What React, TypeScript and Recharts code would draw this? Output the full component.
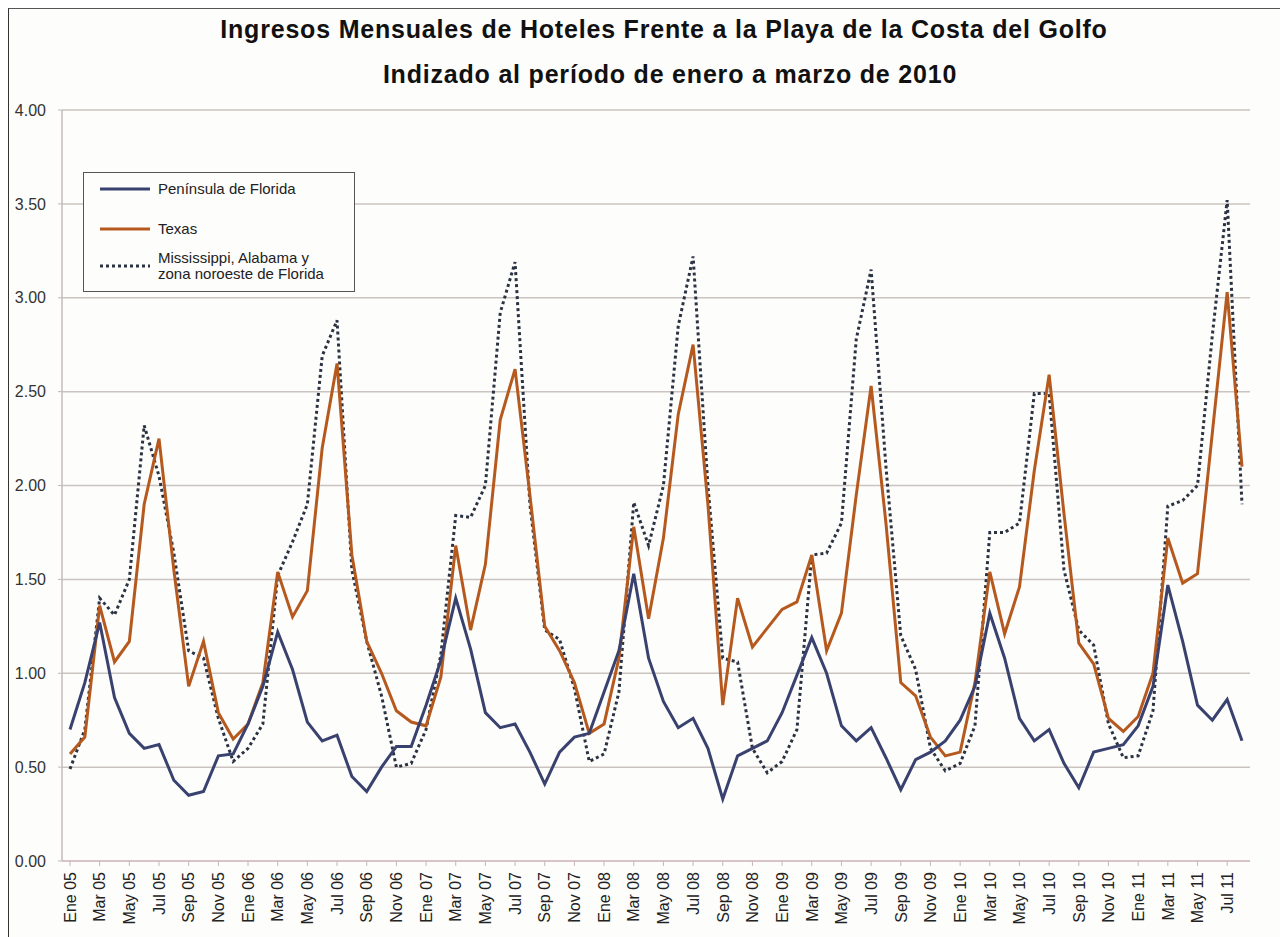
import React from 'react';
import { LineChart, Line, XAxis, YAxis, CartesianGrid } from 'recharts';

const months = [
  'Ene 05', 'Feb 05', 'Mar 05', 'Abr 05', 'May 05', 'Jun 05', 'Jul 05', 'Ago 05', 'Sep 05', 'Oct 05', 'Nov 05', 'Dic 05',
  'Ene 06', 'Feb 06', 'Mar 06', 'Abr 06', 'May 06', 'Jun 06', 'Jul 06', 'Ago 06', 'Sep 06', 'Oct 06', 'Nov 06', 'Dic 06',
  'Ene 07', 'Feb 07', 'Mar 07', 'Abr 07', 'May 07', 'Jun 07', 'Jul 07', 'Ago 07', 'Sep 07', 'Oct 07', 'Nov 07', 'Dic 07',
  'Ene 08', 'Feb 08', 'Mar 08', 'Abr 08', 'May 08', 'Jun 08', 'Jul 08', 'Ago 08', 'Sep 08', 'Oct 08', 'Nov 08', 'Dic 08',
  'Ene 09', 'Feb 09', 'Mar 09', 'Abr 09', 'May 09', 'Jun 09', 'Jul 09', 'Ago 09', 'Sep 09', 'Oct 09', 'Nov 09', 'Dic 09',
  'Ene 10', 'Feb 10', 'Mar 10', 'Abr 10', 'May 10', 'Jun 10', 'Jul 10', 'Ago 10', 'Sep 10', 'Oct 10', 'Nov 10', 'Dic 10',
  'Ene 11', 'Feb 11', 'Mar 11', 'Abr 11', 'May 11', 'Jun 11', 'Jul 11', 'Ago 11',
];

const florida = [
  0.70, 0.95, 1.27, 0.87, 0.68, 0.60, 0.62, 0.43, 0.35, 0.37, 0.56, 0.57,
  0.73, 0.93, 1.22, 1.02, 0.74, 0.64, 0.67, 0.45, 0.37, 0.50, 0.61, 0.61,
  0.83, 1.07, 1.40, 1.13, 0.79, 0.71, 0.73, 0.58, 0.41, 0.58, 0.66, 0.68,
  0.90, 1.12, 1.53, 1.08, 0.85, 0.71, 0.76, 0.60, 0.33, 0.56, 0.60, 0.64,
  0.79, 0.99, 1.19, 1.00, 0.72, 0.64, 0.71, 0.55, 0.38, 0.54, 0.58, 0.64,
  0.75, 0.93, 1.32, 1.08, 0.76, 0.64, 0.70, 0.52, 0.39, 0.58, 0.60, 0.62,
  0.72, 0.93, 1.47, 1.17, 0.83, 0.75, 0.86, 0.64,
];

const texas = [
  0.57, 0.66, 1.36, 1.06, 1.17, 1.90, 2.25, 1.55, 0.93, 1.17, 0.79, 0.65,
  0.73, 0.95, 1.54, 1.30, 1.44, 2.20, 2.65, 1.63, 1.17, 1.00, 0.80, 0.74,
  0.72, 0.98, 1.68, 1.23, 1.58, 2.35, 2.62, 1.95, 1.25, 1.12, 0.95, 0.68,
  0.73, 1.08, 1.78, 1.29, 1.72, 2.38, 2.75, 1.90, 0.83, 1.40, 1.14, 1.24,
  1.34, 1.38, 1.63, 1.12, 1.32, 1.95, 2.53, 1.80, 0.95, 0.88, 0.66, 0.56,
  0.58, 0.95, 1.54, 1.21, 1.46, 2.08, 2.59, 1.85, 1.16, 1.05, 0.76, 0.69,
  0.77, 1.00, 1.72, 1.48, 1.53, 2.28, 3.03, 2.10,
];

const mississippi = [
  0.49, 0.70, 1.40, 1.31, 1.50, 2.32, 2.05, 1.64, 1.12, 1.08, 0.76, 0.53,
  0.60, 0.73, 1.52, 1.70, 1.90, 2.69, 2.88, 1.55, 1.17, 0.88, 0.50, 0.52,
  0.70, 1.10, 1.84, 1.83, 2.00, 2.92, 3.19, 1.90, 1.23, 1.18, 0.92, 0.53,
  0.57, 0.90, 1.91, 1.68, 2.00, 2.85, 3.22, 2.00, 1.08, 1.06, 0.60, 0.47,
  0.53, 0.70, 1.63, 1.64, 1.80, 2.78, 3.15, 2.10, 1.20, 1.02, 0.60, 0.48,
  0.52, 0.72, 1.75, 1.75, 1.80, 2.49, 2.49, 1.55, 1.23, 1.15, 0.73, 0.55,
  0.56, 0.80, 1.89, 1.92, 2.00, 2.80, 3.52, 1.90,
];

const yTicks = [0, 0.5, 1, 1.5, 2, 2.5, 3, 3.5, 4];

const data = months.map((m, i) => ({
  month: m,
  florida: florida[i],
  texas: texas[i],
  mississippi: mississippi[i],
}));

const BLUE = '#39426f';
const ORANGE = '#b5591f';
const DOTS = '#2b3242';
const FONT = '"Liberation Sans", Arial, sans-serif';

const MonthTick = (props: any) => {
  const { x, y, payload } = props;
  return (
    <text
      x={x}
      y={y + 4}
      transform={`rotate(-90 ${x} ${y + 4})`}
      textAnchor="end"
      dy="0.36em"
      fontSize={16}
      fontFamily={FONT}
      fill="#222"
    >
      {payload.value}
    </text>
  );
};

const LegendRow = ({ color, dash, label, h = 40 }: { color: string; dash?: boolean; label: React.ReactNode; h?: number }) => (
  <div style={{ display: 'flex', alignItems: 'center', height: h }}>
    <svg width={56} height={10} style={{ marginRight: 4 }}>
      <line
        x1={2}
        y1={5}
        x2={52}
        y2={5}
        stroke={color}
        strokeWidth={3}
        strokeDasharray={dash ? '3 3' : undefined}
      />
    </svg>
    <div style={{ fontSize: 15, lineHeight: '16px', color: '#222' }}>{label}</div>
  </div>
);

const titleStyle: React.CSSProperties = {
  position: 'absolute',
  left: 0,
  textAlign: 'center',
  fontWeight: 'bold',
  fontSize: 25,
  letterSpacing: 0.8,
  color: '#111',
  whiteSpace: 'nowrap',
};

export default function App() {
  return (
    <div
      style={{
        position: 'relative',
        width: 1280,
        height: 929,
        background: '#fdfdfb',
        borderTop: '1px solid #555',
        borderLeft: '1px solid #333',
        fontFamily: FONT,
        boxSizing: 'border-box',
      }}
    >
      <div style={{ ...titleStyle, width: 1310, top: 6 }}>
        Ingresos Mensuales de Hoteles Frente a la Playa de la Costa del Golfo
      </div>
      <div style={{ ...titleStyle, width: 1322, top: 51 }}>
        Indizado al período de enero a marzo de 2010
      </div>

      <LineChart
        width={1272}
        height={921}
        data={data}
        margin={{ top: 102, right: 30, bottom: 0, left: 0 }}
        style={{ position: 'absolute', left: -1, top: -1 }}
      >
        <CartesianGrid vertical={false} stroke="#cbc3c0" strokeWidth={1.5} />
        <XAxis
          dataKey="month"
          interval={1}
          padding={{ left: 8, right: 8 }}
          tick={<MonthTick />}
          tickLine={{ stroke: '#c9b5b5' }}
          tickSize={5}
          axisLine={{ stroke: '#d8c4c4', strokeWidth: 2 }}
          height={68}
        />
        <YAxis
          domain={[0, 4]}
          ticks={yTicks}
          tickFormatter={(v: number) => v.toFixed(2)}
          width={54}
          tickSize={4}
          tickLine={{ stroke: '#bbb' }}
          axisLine={{ stroke: '#c4bcb8', strokeWidth: 1.5 }}
          tick={{ fontSize: 16, fill: '#333', fontFamily: FONT, dx: -10 }}
        />
        <Line
          type="linear"
          dataKey="mississippi"
          stroke={DOTS}
          strokeWidth={3}
          strokeDasharray="3 3"
          dot={false}
          isAnimationActive={false}
        />
        <Line
          type="linear"
          dataKey="texas"
          stroke={ORANGE}
          strokeWidth={3}
          dot={false}
          isAnimationActive={false}
        />
        <Line
          type="linear"
          dataKey="florida"
          stroke={BLUE}
          strokeWidth={3}
          dot={false}
          isAnimationActive={false}
        />
      </LineChart>

      <div
        style={{
          position: 'absolute',
          left: 74,
          top: 163,
          width: 272,
          height: 120,
          border: '1.5px solid #555',
          background: '#fdfdfb',
          padding: '0 0 0 14px',
          boxSizing: 'border-box',
        }}
      >
        <div style={{ marginTop: -4 }}>
          <LegendRow color={BLUE} label="Península de Florida" />
          <LegendRow color={ORANGE} label="Texas" />
          <LegendRow
            color={DOTS}
            dash
            h={34}
            label={
              <>
                Mississippi, Alabama y
                <br />
                zona noroeste de Florida
              </>
            }
          />
        </div>
      </div>
    </div>
  );
}
